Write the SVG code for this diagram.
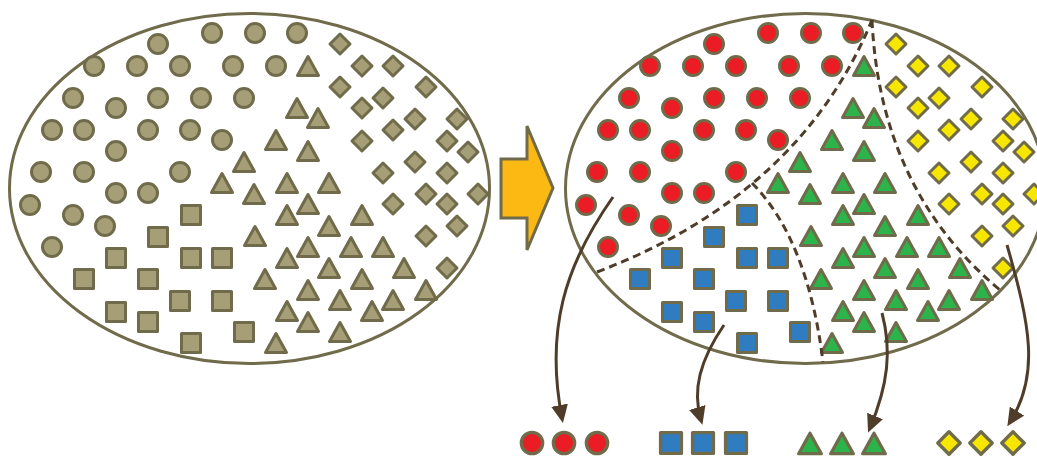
<svg xmlns="http://www.w3.org/2000/svg" xmlns:xlink="http://www.w3.org/1999/xlink" width="1037" height="457" viewBox="0 0 1037 457">
  <style>
    .outline { fill: none; stroke: #706b4a; stroke-width: 3; }
    .divider { fill: none; stroke: #4f3d29; stroke-width: 3; stroke-dasharray: 8 5; }
    .flow { fill: none; stroke: #4f3d29; stroke-width: 3; }
    .shapes { stroke: #706b4a; stroke-width: 3; stroke-linejoin: round; }
    .plain { fill: #a59e77; }
    .red { fill: #ec1c24; }
    .blue { fill: #2f7cc1; }
    .green { fill: #2cb34a; }
    .yellow { fill: #f7e600; }
  </style>
  <defs>
    <!-- base glyphs, centred on the origin -->
    <circle id="c" r="9.5"/>
    <rect id="s" x="-9.5" y="-9.5" width="19" height="19"/>
    <polygon id="t" points="0,-10 10.5,9 -10.5,9"/>
    <polygon id="d" points="0,-10 10,0 0,10 -10,0"/>

    <marker id="head" markerUnits="userSpaceOnUse" markerWidth="18" markerHeight="17" refX="13" refY="8.5" orient="auto">
      <path d="M0,0 L18,8.5 L0,17 Z" fill="#4f3d29"/>
    </marker>

    <!-- scattered population: circles -->
    <g id="circles">
      <use xlink:href="#c" x="212" y="33"/><use xlink:href="#c" x="255" y="33"/><use xlink:href="#c" x="297" y="33"/>
      <use xlink:href="#c" x="158" y="44"/>
      <use xlink:href="#c" x="94" y="66"/><use xlink:href="#c" x="137" y="66"/><use xlink:href="#c" x="180" y="66"/>
      <use xlink:href="#c" x="233" y="66"/><use xlink:href="#c" x="276" y="66"/>
      <use xlink:href="#c" x="73" y="98"/><use xlink:href="#c" x="116" y="108"/><use xlink:href="#c" x="158" y="98"/>
      <use xlink:href="#c" x="201" y="98"/><use xlink:href="#c" x="244" y="98"/>
      <use xlink:href="#c" x="52" y="130"/><use xlink:href="#c" x="84" y="130"/><use xlink:href="#c" x="148" y="130"/>
      <use xlink:href="#c" x="190" y="130"/><use xlink:href="#c" x="222" y="140"/>
      <use xlink:href="#c" x="116" y="151"/>
      <use xlink:href="#c" x="41" y="172"/><use xlink:href="#c" x="84" y="172"/><use xlink:href="#c" x="180" y="172"/>
      <use xlink:href="#c" x="116" y="193"/><use xlink:href="#c" x="148" y="193"/>
      <use xlink:href="#c" x="30" y="205"/><use xlink:href="#c" x="73" y="215"/><use xlink:href="#c" x="105" y="226"/>
      <use xlink:href="#c" x="52" y="247"/>
    </g>
    <!-- squares -->
    <g id="squares">
      <use xlink:href="#s" x="191" y="215"/><use xlink:href="#s" x="158" y="237"/>
      <use xlink:href="#s" x="116" y="258"/><use xlink:href="#s" x="191" y="258"/><use xlink:href="#s" x="222" y="258"/>
      <use xlink:href="#s" x="84" y="279"/><use xlink:href="#s" x="148" y="279"/>
      <use xlink:href="#s" x="180" y="301"/><use xlink:href="#s" x="222" y="301"/>
      <use xlink:href="#s" x="116" y="312"/><use xlink:href="#s" x="148" y="322"/>
      <use xlink:href="#s" x="244" y="332"/><use xlink:href="#s" x="191" y="343"/>
    </g>
    <!-- triangles -->
    <g id="triangles">
      <use xlink:href="#t" x="308" y="66.5"/>
      <use xlink:href="#t" x="297" y="108.5"/><use xlink:href="#t" x="318" y="118.5"/>
      <use xlink:href="#t" x="276" y="140.5"/><use xlink:href="#t" x="308" y="151.5"/>
      <use xlink:href="#t" x="244" y="162.5"/>
      <use xlink:href="#t" x="222" y="183.5"/><use xlink:href="#t" x="287" y="183.5"/><use xlink:href="#t" x="329" y="183.5"/>
      <use xlink:href="#t" x="254" y="194.5"/><use xlink:href="#t" x="308" y="204.5"/>
      <use xlink:href="#t" x="287" y="215.5"/><use xlink:href="#t" x="362" y="215.5"/>
      <use xlink:href="#t" x="329" y="226.5"/><use xlink:href="#t" x="255" y="236.5"/>
      <use xlink:href="#t" x="308" y="247.5"/><use xlink:href="#t" x="351" y="247.5"/><use xlink:href="#t" x="383" y="247.5"/>
      <use xlink:href="#t" x="287" y="258.5"/>
      <use xlink:href="#t" x="329" y="268.5"/><use xlink:href="#t" x="404" y="268.5"/>
      <use xlink:href="#t" x="265" y="279.5"/><use xlink:href="#t" x="362" y="279.5"/>
      <use xlink:href="#t" x="308" y="290.5"/><use xlink:href="#t" x="426" y="290.5"/>
      <use xlink:href="#t" x="340" y="300.5"/><use xlink:href="#t" x="393" y="300.5"/>
      <use xlink:href="#t" x="287" y="311.5"/><use xlink:href="#t" x="372" y="311.5"/>
      <use xlink:href="#t" x="308" y="322.5"/><use xlink:href="#t" x="340" y="332.5"/>
      <use xlink:href="#t" x="276" y="343.5"/>
    </g>
    <!-- diamonds -->
    <g id="diamonds">
      <use xlink:href="#d" x="340" y="44"/>
      <use xlink:href="#d" x="362" y="66"/><use xlink:href="#d" x="393" y="66"/>
      <use xlink:href="#d" x="340" y="87"/><use xlink:href="#d" x="426" y="87"/>
      <use xlink:href="#d" x="383" y="98"/><use xlink:href="#d" x="362" y="108"/>
      <use xlink:href="#d" x="415" y="119"/><use xlink:href="#d" x="457" y="119"/>
      <use xlink:href="#d" x="393" y="130"/><use xlink:href="#d" x="362" y="141"/><use xlink:href="#d" x="447" y="141"/>
      <use xlink:href="#d" x="468" y="152"/><use xlink:href="#d" x="415" y="162"/>
      <use xlink:href="#d" x="383" y="173"/><use xlink:href="#d" x="447" y="173"/>
      <use xlink:href="#d" x="426" y="194"/><use xlink:href="#d" x="478" y="194"/>
      <use xlink:href="#d" x="393" y="204"/><use xlink:href="#d" x="447" y="204"/>
      <use xlink:href="#d" x="457" y="226"/><use xlink:href="#d" x="426" y="236"/>
      <use xlink:href="#d" x="447" y="268"/>
    </g>
  </defs>

  <rect width="1037" height="457" fill="#ffffff"/>

  <!-- mixed population -->
  <g id="mixed-set">
    <ellipse class="outline" cx="249.5" cy="188.5" rx="240" ry="175"/>
    <g class="shapes plain">
      <use xlink:href="#circles"/>
      <use xlink:href="#squares"/>
      <use xlink:href="#triangles"/>
      <use xlink:href="#diamonds"/>
    </g>
  </g>

  <!-- transition arrow -->
  <g id="transition">
    <polygon points="501,159 527,159 527,126 553,188 527,250 527,218 501,218" fill="#fdb913" stroke="#706b4a" stroke-width="3"/>
  </g>

  <!-- classified population -->
  <g id="classified-set">
    <ellipse class="outline" cx="805.5" cy="188.5" rx="240" ry="175"/>
    <g class="shapes" transform="translate(556,0)">
      <use xlink:href="#circles" class="red"/>
      <use xlink:href="#squares" class="blue"/>
      <use xlink:href="#triangles" class="green"/>
      <use xlink:href="#diamonds" class="yellow"/>
    </g>
  </g>

  <!-- class samples -->
  <g id="sample-red" class="shapes red">
    <use xlink:href="#c" transform="translate(532,443) scale(1.12)"/>
    <use xlink:href="#c" transform="translate(564,443) scale(1.12)"/>
    <use xlink:href="#c" transform="translate(597,443) scale(1.12)"/>
  </g>
  <g id="sample-blue" class="shapes blue">
    <use xlink:href="#s" transform="translate(671,443) scale(1.1)"/>
    <use xlink:href="#s" transform="translate(703,443) scale(1.1)"/>
    <use xlink:href="#s" transform="translate(736,443) scale(1.1)"/>
  </g>
  <g id="sample-green" class="shapes green">
    <use xlink:href="#t" transform="translate(810,444) scale(1.08)"/>
    <use xlink:href="#t" transform="translate(842,444) scale(1.08)"/>
    <use xlink:href="#t" transform="translate(874,444) scale(1.08)"/>
  </g>
  <g id="sample-yellow" class="shapes yellow">
    <use xlink:href="#d" transform="translate(949,443) scale(1.12)"/>
    <use xlink:href="#d" transform="translate(981,443) scale(1.12)"/>
    <use xlink:href="#d" transform="translate(1013,443) scale(1.12)"/>
  </g>

  <!-- boundaries and flows -->
  <g id="connectors">
    <path class="divider" d="M597,272 Q800,195 872,20"/>
    <path class="divider" d="M872,20 Q880,190 1000,290"/>
    <path class="divider" d="M752,183 Q808,240 823,362"/>

    <path class="flow" marker-end="url(#head)" d="M613,197 C565,265 545,330 562,418"/>
    <path class="flow" marker-end="url(#head)" d="M724,325 C700,360 692,390 701,420"/>
    <path class="flow" marker-end="url(#head)" d="M882,313 C892,350 888,385 870,428"/>
    <path class="flow" marker-end="url(#head)" d="M1007,245 C1030,325 1040,375 1010,422"/>
  </g>
</svg>
